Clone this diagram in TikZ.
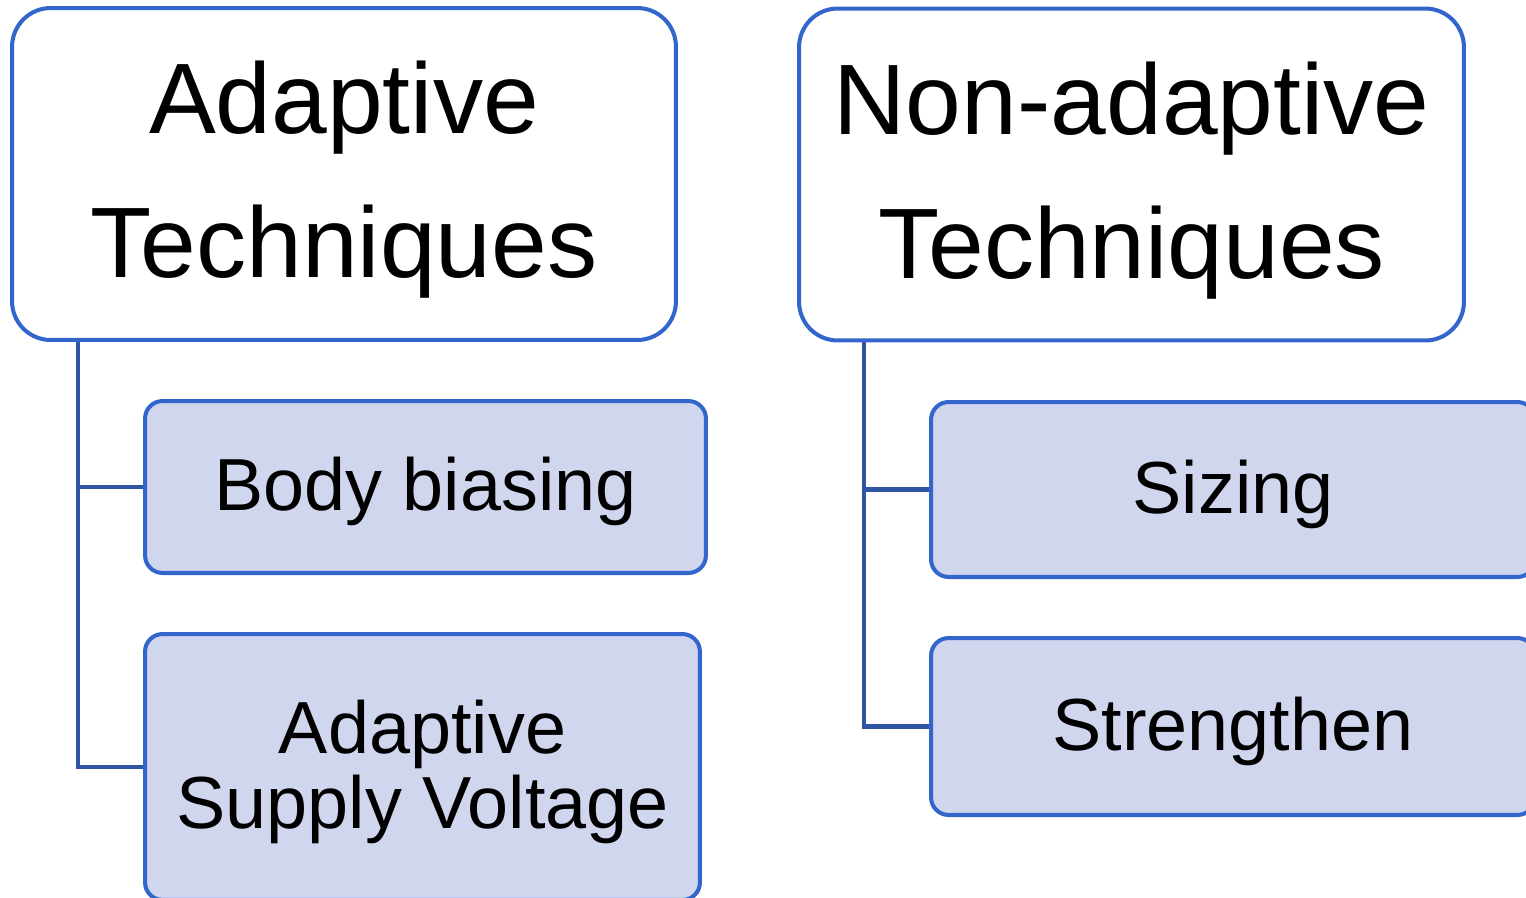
\documentclass[tikz,border=0pt]{standalone}
\usepackage{fontspec}
\setmainfont{Liberation Sans}
\usetikzlibrary{positioning}
\definecolor{boxblue}{RGB}{51,102,204}
\definecolor{linkblue}{RGB}{47,85,164}
\definecolor{subfill}{RGB}{208,214,238}
\newcommand{\bigstrut}{\rule{0pt}{48pt}}
\newcommand{\smallstrut}{\rule{0pt}{36pt}}

\begin{document}
\begin{tikzpicture}[x=0.02cm, y=-0.02cm, line width=2.3pt]
        \tikzstyle{group}=[draw=boxblue, fill=white, rounded corners=22pt, minimum height=6.64cm, align=center, font=\fontsize{57}{82}\selectfont]
        \tikzstyle{item}=[draw=boxblue, fill=subfill, rounded corners=10pt, align=center, font=\fontsize{42}{43}\selectfont]
        \tikzstyle{link}=[draw=linkblue, line width=2.6pt]
        \useasboundingbox (0,0) rectangle (1526,897);
        % top level boxes
        \node[group, minimum width=13.28cm]  (adapt)    at (344,174)    {\bigstrut Adaptive\\Techniques};
        \node[group, minimum width=13.30cm]  (nonadapt) at (1131.5,174.5) {\bigstrut Non-adaptive\\Techniques};
        % adaptive branch
        \node[item, minimum width=11.22cm, minimum height=3.44cm] (bias)   at (425.5,487)   {\smallstrut Body biasing};
        \node[item, minimum width=11.10cm, minimum height=5.32cm] (asv)    at (422.5,767)   {\smallstrut Adaptive\\Supply Voltage};
        % non-adaptive branch
        \node[item, minimum width=12.08cm, minimum height=3.50cm] (sizing) at (1233,489.5)  {\smallstrut Sizing};
        \node[item, minimum width=12.08cm, minimum height=3.54cm] (strong) at (1233,726.5)  {\smallstrut Strengthen};
        \path[link]
        (adapt.south west) ++(68,0) coordinate (spineA) |- (bias.west)
        (spineA) |- (asv.west)
        (nonadapt.south west) ++(67,0) coordinate (spineN) |- (sizing.west)
        (spineN) |- (strong.west);
\end{tikzpicture}
\end{document}
